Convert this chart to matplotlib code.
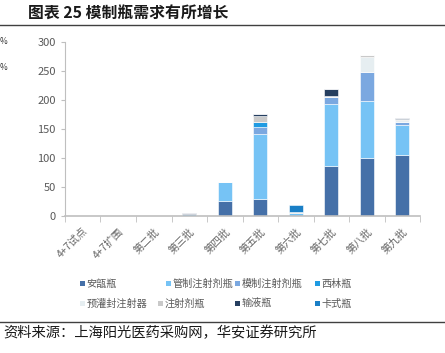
import numpy as np
import matplotlib.pyplot as plt
from matplotlib.patches import Patch

plt.rcParams['font.family'] = ['Noto Sans CJK SC', 'DejaVu Sans']

# categories (procurement batches)
batches = ['4+7试点', '4+7扩围', '第二批', '第三批', '第四批',
           '第五批', '第六批', '第七批', '第八批', '第九批']

# stacked series, bottom to top
anpei   = [2, 0, 0, 0, 27, 30, 0, 87, 101, 105]      # 安瓿瓶
guanzhi = [0, 1, 1, 4, 33, 112, 5, 107, 97, 53]      # 管制注射剂瓶
mozhi   = [0, 0, 0, 0, 0, 12, 0, 11, 51, 4]          # 模制注射剂瓶
xilin   = [0, 0, 0, 0, 0, 8, 0, 0, 0, 0]             # 西林瓶
yuguan  = [0, 0, 0, 0, 0, 1, 0, 2, 25, 3]            # 预灌封注射器
zhushe  = [0, 0, 0, 0, 0, 9, 3, 0, 3, 2]             # 注射剂瓶
shuye   = [0, 0, 0, 1, 0, 4, 0, 13, 0, 3]            # 输液瓶
kashi   = [0, 0, 0, 0, 0, 0, 11, 0, 0, 0]            # 卡式瓶

series = [
    ('安瓿瓶', anpei, '#4570a8'),
    ('管制注射剂瓶', guanzhi, '#76c3f5'),
    ('模制注射剂瓶', mozhi, '#7ba8e0'),
    ('西林瓶', xilin, '#1f9be2'),
    ('预灌封注射器', yuguan, '#e6eef1'),
    ('注射剂瓶', zhushe, '#c9c9c9'),
    ('输液瓶', shuye, '#263f60'),
    ('卡式瓶', kashi, '#1a7fc6'),
]

fig = plt.figure(figsize=(4.45, 3.53), dpi=100)
ax = fig.add_axes([0.146, 0.387, 0.798, 0.494])

x = np.arange(len(batches))
bottom = np.zeros(len(batches))
for name, vals, color in series:
    vals = np.array(vals, dtype=float)
    ax.bar(x, vals, 0.4, bottom=bottom, color=color, label=name,
           edgecolor='white', linewidth=0.4)
    bottom += vals

ax.set_xlim(-0.5, len(batches) - 0.5)
ax.set_ylim(0, 300)
ax.set_yticks(range(0, 301, 50))

gray = '#595959'
for s in ['top', 'right']:
    ax.spines[s].set_visible(False)
ax.spines['left'].set_color('#bfbfbf')
ax.spines['bottom'].set_color('#bfbfbf')
ax.spines['bottom'].set_linewidth(1.2)
ax.tick_params(axis='y', labelsize=8, colors=gray, length=3, color='#bfbfbf')
ax.tick_params(axis='x', length=0, pad=7)

# category separators as ticks on the x axis
ax.set_xticks(x)
ax.set_xticklabels(batches, rotation=45, ha='right', rotation_mode='anchor',
                   fontsize=7.5, color='#666666')
ax.set_xticks(np.arange(-0.5, len(batches), 1), minor=True)
ax.tick_params(axis='x', which='minor', length=4, color='#bfbfbf', direction='out')

# legend entries placed like the original (two rows, uneven columns)
leg_pos = [(80, 284), (166, 284), (235, 284), (315, 284),
           (80, 304), (158, 304), (235, 304), (315, 304)]
W, H = 445.0, 353.0
for i, (px, py) in enumerate(leg_pos):
    name, _, color = series[i]
    lg = fig.legend([Patch(facecolor=color)], [name], loc='center left',
                    bbox_to_anchor=(px / W, 1 - py / H), frameon=False,
                    fontsize=7.3, handlelength=0.45, handleheight=0.45,
                    handletextpad=0.2, borderpad=0, borderaxespad=0)
    for t in lg.get_texts():
        t.set_color(gray)

# title and source
fig.text(0.063, 0.962, '图表 25 模制瓶需求有所增长', fontsize=11.4,
         fontweight='bold', va='center', color='#1a1a1a')
fig.add_artist(plt.Line2D([0, 1], [0.93, 0.93], color='#404040', lw=1))
fig.add_artist(plt.Line2D([0, 1], [0.087, 0.087], color='#404040', lw=1))
fig.text(0.008, 0.058, '资料来源：上海阳光医药采购网，华安证券研究所', fontsize=10.3,
         va='center', color='#1a1a1a')

fig.text(0.0, 0.882, '%', fontsize=6, va='center', color='#333333')
fig.text(0.0, 0.808, '%', fontsize=6, va='center', color='#333333')

plt.savefig('out.png', dpi=100)
